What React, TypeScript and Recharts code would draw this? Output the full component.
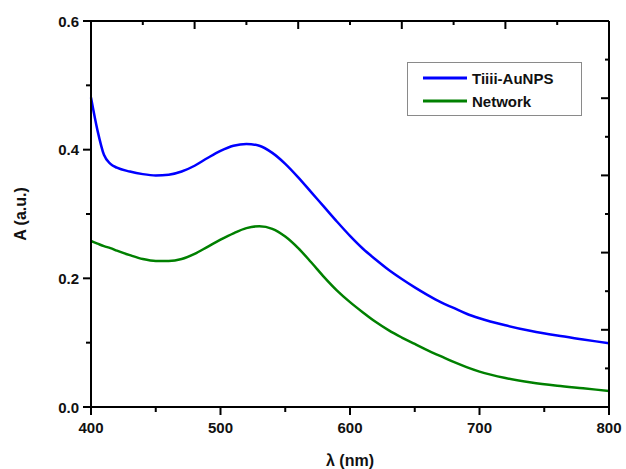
import React from 'react'
import { LineChart, Line, XAxis, YAxis, Legend } from 'recharts'

// absorbance spectra
const wavelengths = [
  400, 405, 410, 415, 420, 430, 440, 450, 460, 470, 480, 490, 500, 510, 520, 530, 540, 550, 560,
  570, 580, 590, 600, 610, 620, 630, 640, 650, 660, 670, 680, 690, 700, 720, 740, 760, 780, 800,
]
const tiiiiAu = [
  0.481, 0.43, 0.392, 0.378, 0.372, 0.366, 0.362, 0.36, 0.361, 0.366, 0.375, 0.387, 0.398, 0.406,
  0.409, 0.406, 0.395, 0.378, 0.357, 0.334, 0.311, 0.288, 0.266, 0.246, 0.229, 0.213, 0.199, 0.186,
  0.174, 0.163, 0.154, 0.145, 0.138, 0.127, 0.118, 0.111, 0.105, 0.099,
]
const network = [
  0.258, 0.254, 0.25, 0.247, 0.243, 0.236, 0.23, 0.227, 0.227, 0.23, 0.238, 0.249, 0.26, 0.27,
  0.278, 0.281, 0.277, 0.265, 0.247, 0.225, 0.202, 0.181, 0.163, 0.147, 0.132, 0.119, 0.108, 0.098,
  0.088, 0.079, 0.07, 0.062, 0.055, 0.045, 0.038, 0.033, 0.029, 0.025,
]

const xTicks = [400, 450, 500, 550, 600, 650, 700, 750, 800]
const yTicks = [0, 0.1, 0.2, 0.3, 0.4, 0.5, 0.6]
// the top and right frame axes have their own tick spacing in the figure
const topTicks = [400, 440, 480, 520, 560, 600, 640, 680, 720, 760, 800]
const rightTicks = [0, 0.06, 0.12, 0.18, 0.24, 0.3, 0.36, 0.42, 0.48, 0.54, 0.6]

const xTitle = 'λ (nm)'
const yTitle = 'A (a.u.)'
const seriesNames = ['Tiiii-AuNPS', 'Network']
const seriesColors = ['#0000ff', '#008000']

const data = wavelengths.map((wl, i) => ({ wl, tiiii: tiiiiAu[i], network: network[i] }))

const font = "'Liberation Sans', Arial, sans-serif"
const titleStyle: React.CSSProperties = {
  position: 'absolute',
  fontFamily: font,
  fontWeight: 'bold',
  fontSize: 16,
  lineHeight: '18px',
  color: '#111',
  textAlign: 'center',
  whiteSpace: 'nowrap',
}

const BottomTick = ({ x, y, payload }: any) => {
  const major = payload.value % 100 === 0
  return (
    <g>
      <rect x={x - 1} y={y} width={2} height={major ? 8 : 5} fill="#000" />
      {major && (
        <text x={x} y={y + 26} textAnchor="middle" fontFamily={font} fontWeight="bold" fontSize={15} fill="#111">
          {payload.value}
        </text>
      )}
    </g>
  )
}

const LeftTick = ({ x, y, payload }: any) => {
  const major = Math.round(payload.value * 10) % 2 === 0
  const len = major ? 8 : 5
  return (
    <g>
      <rect x={x - len} y={y - 1} width={len} height={2} fill="#000" />
      {major && (
        <text x={x - 12} y={y + 5.5} textAnchor="end" fontFamily={font} fontWeight="bold" fontSize={15} fill="#111">
          {payload.value.toFixed(1)}
        </text>
      )}
    </g>
  )
}

const TopTick = ({ x, y, payload }: any) => {
  const major = (payload.value - 400) % 80 === 0
  return <rect x={x - 1} y={y} width={2} height={major ? 8 : 4} fill="#000" />
}

const RightTick = ({ x, y, payload }: any) => {
  const len = Math.round(payload.value * 100) % 12 === 0 ? 8 : 4
  return <rect x={x - len} y={y - 1} width={len} height={2} fill="#000" />
}

const LegendBox = () => (
  <div
    style={{
      width: 175,
      height: 54,
      boxSizing: 'border-box',
      border: '1px solid #8a8a8a',
      background: '#fff',
      position: 'relative',
      fontFamily: font,
      fontWeight: 'bold',
      fontSize: 15,
      color: '#111',
    }}
  >
    {seriesNames.map((name, i) => (
      <div key={name} style={{ position: 'absolute', left: 15, top: 5 + i * 23, height: 20, display: 'flex', alignItems: 'center' }}>
        <svg width={44} height={4} style={{ marginRight: 5 }}>
          <line x1={0} y1={2} x2={44} y2={2} stroke={seriesColors[i]} strokeWidth={3} />
        </svg>
        <span>{name}</span>
      </div>
    ))}
  </div>
)

export default function App() {
  return (
    <div style={{ position: 'absolute', left: 0, top: 0, width: 626, height: 469, background: '#fff' }}>
      <LineChart width={626} height={469} data={data} margin={{ top: 20, right: 16, bottom: 0, left: 0 }}>
        <XAxis
          dataKey="wl"
          type="number"
          domain={[400, 800]}
          ticks={xTicks}
          interval={0}
          height={62}
          tickSize={0}
          tickMargin={0}
          tickLine={false}
          axisLine={{ stroke: '#000', strokeWidth: 2 }}
          tick={<BottomTick />}
        />
        <YAxis
          type="number"
          domain={[0, 0.6]}
          ticks={yTicks}
          interval={0}
          width={91}
          tickSize={0}
          tickMargin={0}
          tickLine={false}
          axisLine={{ stroke: '#000', strokeWidth: 2 }}
          tick={<LeftTick />}
        />
        <XAxis
          xAxisId="top"
          dataKey="wl"
          orientation="top"
          type="number"
          domain={[400, 800]}
          allowDataOverflow
          ticks={topTicks}
          interval={0}
          height={1}
          tickSize={0}
          tickMargin={0}
          tickLine={false}
          axisLine={{ stroke: '#000', strokeWidth: 2 }}
          tick={<TopTick />}
        />
        <YAxis
          yAxisId="right"
          orientation="right"
          type="number"
          domain={[0, 0.6]}
          allowDataOverflow
          ticks={rightTicks}
          interval={0}
          width={1}
          tickSize={0}
          tickMargin={0}
          tickLine={false}
          axisLine={{ stroke: '#000', strokeWidth: 2 }}
          tick={<RightTick />}
        />
        <Legend
          layout="horizontal"
          verticalAlign="middle"
          align="center"
          content={<LegendBox />}
          wrapperStyle={{ left: 407, top: 62, width: 175, height: 54 }}
        />
        <Line type="monotone" dataKey="tiiii" name={seriesNames[0]} stroke={seriesColors[0]} strokeWidth={2.5} dot={false} isAnimationActive={false} />
        <Line type="monotone" dataKey="network" name={seriesNames[1]} stroke={seriesColors[1]} strokeWidth={2.5} dot={false} isAnimationActive={false} />
      </LineChart>
      <div style={{ ...titleStyle, left: 250, top: 452, width: 200 }}>{xTitle}</div>
      <div style={{ ...titleStyle, left: -39, top: 205, width: 120, transform: 'rotate(-90deg)' }}>{yTitle}</div>
    </div>
  )
}
